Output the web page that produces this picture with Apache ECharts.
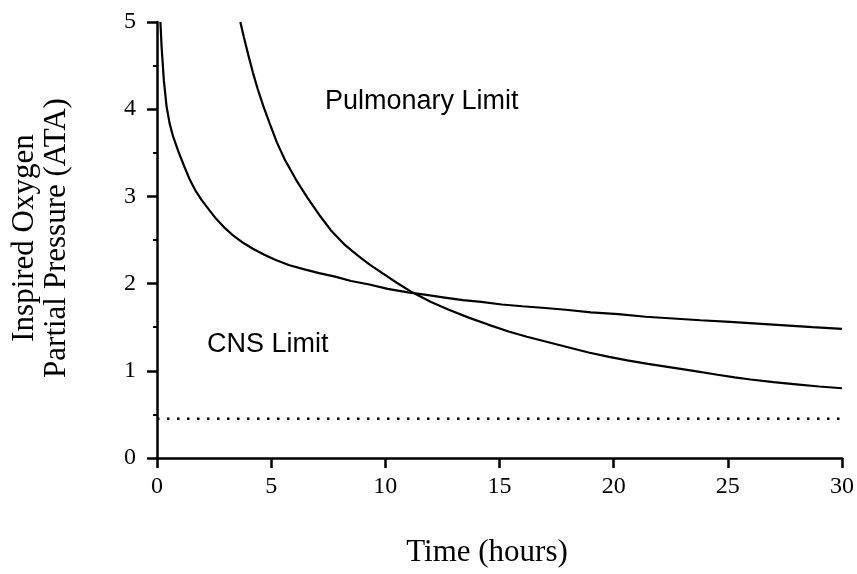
<!DOCTYPE html>
<html>
<head>
<meta charset="utf-8">
<script src="https://cdn.jsdelivr.net/npm/echarts@6/dist/echarts.min.js"></script>
<style>html,body{margin:0;padding:0;background:#fff}#c{width:857px;height:574px}</style>
</head>
<body>
<div id="c"></div>
<script>
// Time (hours) vs inspired O2 partial pressure (ATA)
const cnsLimit = [[0.15,5.0],[0.2,4.72],[0.3,4.33],[0.42,4.03],[0.55,3.84],[0.7,3.69],[0.93,3.52],[1.2,3.34],[1.44,3.19],[1.7,3.06],[1.95,2.96],[2.3,2.84],[2.6,2.74],[3.0,2.63],[3.3,2.56],[3.7,2.48],[4.2,2.40],[4.7,2.33],[5.2,2.27],[5.8,2.21],[6.5,2.16],[7.1,2.12],[7.8,2.08],[8.5,2.03],[9.3,1.99],[10.1,1.94],[11.0,1.90],[11.8,1.87],[12.6,1.84],[13.4,1.81],[14.2,1.79],[15.1,1.76],[16.0,1.74],[17.0,1.72],[17.9,1.70],[19.0,1.67],[20.2,1.65],[21.4,1.62],[22.6,1.60],[23.8,1.58],[25.1,1.56],[26.3,1.54],[27.5,1.52],[28.7,1.50],[30,1.48]];
const pulmonaryLimit = [[3.65,5.0],[3.8,4.83],[4.0,4.62],[4.2,4.42],[4.4,4.24],[4.65,4.04],[4.93,3.84],[5.25,3.62],[5.6,3.42],[6.09,3.19],[6.6,2.98],[7.1,2.79],[7.62,2.61],[8.2,2.45],[8.8,2.32],[9.3,2.22],[9.87,2.12],[10.5,2.01],[11.18,1.90],[12.0,1.79],[12.78,1.70],[13.65,1.61],[14.5,1.53],[15.4,1.45],[16.2,1.39],[17.1,1.33],[18.0,1.27],[18.9,1.21],[19.8,1.16],[20.6,1.12],[21.5,1.08],[22.5,1.04],[23.5,1.00],[24.55,0.955],[25.3,0.925],[26.0,0.90],[27.0,0.87],[28.0,0.845],[29.0,0.82],[30,0.80]];
const thresholdLevel = 0.45;
const xRange = [0, 30];
const yRange = [0, 5];
const xTicks = [0, 5, 10, 15, 20, 25, 30];
const yTicks = [0, 1, 2, 3, 4, 5];

const serif = '"Liberation Serif", "DejaVu Serif", serif';
const sans = '"Liberation Sans", Arial, sans-serif';
const chart = echarts.init(document.getElementById('c'));
chart.setOption({
  animation: false,
  backgroundColor: '#fff',
  grid: { left: 157, right: 12, top: 22, bottom: 116, containLabel: false },
  xAxis: {
    type: 'value', min: xRange[0], max: xRange[1], interval: 5,
    axisLine: { show: true, onZero: false, lineStyle: { color: '#000', width: 2.5 } },
    axisTick: { show: true, length: 10, lineStyle: { color: '#000', width: 2.5 } },
    axisLabel: { color: '#000', fontFamily: serif, fontSize: 24, margin: 17 },
    splitLine: { show: false }
  },
  yAxis: {
    type: 'value', min: yRange[0], max: yRange[1], interval: 1,
    axisLine: { show: true, onZero: false, lineStyle: { color: '#000', width: 2.5 } },
    axisTick: { show: true, length: 10, lineStyle: { color: '#000', width: 2.5 } },
    minorTick: { show: true, splitNumber: 2, length: 4, lineStyle: { color: '#000', width: 2 } },
    axisLabel: { color: '#000', fontFamily: serif, fontSize: 24, margin: 21 },
    splitLine: { show: false }
  },
  series: [
    { type: 'line', data: cnsLimit, showSymbol: false, smooth: false, lineStyle: { color: '#000', width: 2.2 } },
    { type: 'line', data: pulmonaryLimit, showSymbol: false, smooth: false, lineStyle: { color: '#000', width: 2.2 } },
    { type: 'line', data: [[xRange[0], thresholdLevel], [xRange[1], thresholdLevel]], showSymbol: false,
      lineStyle: { color: '#000', width: 2.5, type: [2.5, 7.5] } }
  ],
  graphic: [
    { type: 'text', left: 325, top: 88, style: { text: 'Pulmonary Limit', fontFamily: sans, fontSize: 27, fill: '#000' } },
    { type: 'text', left: 207, top: 331, style: { text: 'CNS Limit', fontFamily: sans, fontSize: 27, fill: '#000' } },
    { type: 'text', x: 41, y: 238, rotation: Math.PI / 2,
      style: { text: 'Inspired Oxygen\nPartial Pressure (ATA)', fontFamily: serif, fontSize: 31, lineHeight: 32, fill: '#000', align: 'center', verticalAlign: 'middle' } },
    { type: 'text', x: 487, y: 553,
      style: { text: 'Time (hours)', fontFamily: serif, fontSize: 31, fill: '#000', align: 'center', verticalAlign: 'middle' } }
  ]
});
</script>
</body>
</html>
